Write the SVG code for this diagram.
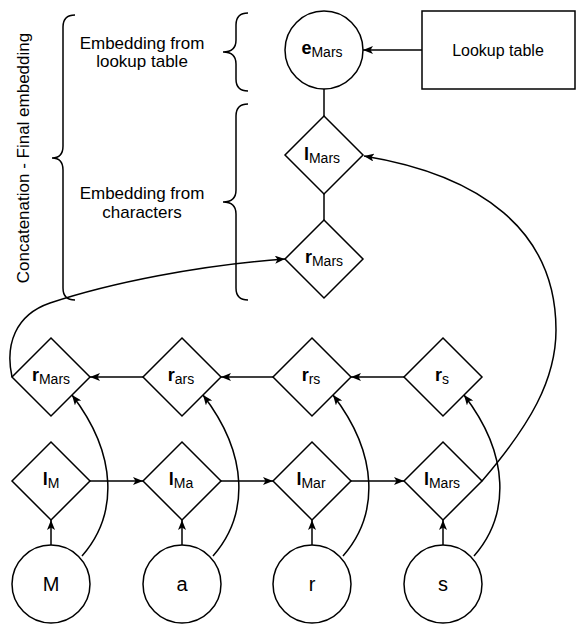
<svg xmlns="http://www.w3.org/2000/svg" width="576" height="624" viewBox="0 0 576 624">
<defs>
<style>
.s{fill:#fff;stroke:#000;stroke-width:1.5}
.c{fill:none;stroke:#000;stroke-width:1.5}
.b{fill:none;stroke:#000;stroke-width:1.5}
text{font-family:"Liberation Sans",Arial,Helvetica,sans-serif;fill:#000}
.lbl{font-size:16px;text-anchor:middle}
.m{font-weight:bold;font-size:18px}
.sub{font-size:14px}
.big{font-size:20px;text-anchor:middle}
.t{font-size:16px;text-anchor:middle}
.e{font-size:17px}
</style>
<marker id="a" viewBox="0 0 10 8" refX="10" refY="4" markerWidth="10" markerHeight="8" markerUnits="userSpaceOnUse" orient="auto">
<path d="M0,0 L10,4 L0,8 L2.5,4 Z" fill="#000"/>
</marker>
</defs>

<g id="braces">
<path class="b" d="M75,15 Q63,15 63,27 L63,146 Q63,158 52,158 Q63,158 63,170 L63,288 Q63,300 75,300"/>
<path class="b" d="M248,13 Q236,13 236,25 L236,40 Q236,52 223,52 Q236,52 236,64 L236,79 Q236,91 248,91"/>
<path class="b" d="M248,104 Q236,104 236,116 L236,190 Q236,202 223,202 Q236,202 236,214 L236,288 Q236,300 248,300"/>
</g>

<g id="labels">
<text class="t e" transform="translate(29,158) rotate(-90)">Concatenation - Final embedding</text>
<text class="t e" x="142" y="48.5">Embedding from</text>
<text class="t e" x="142" y="67">lookup table</text>
<text class="t e" x="142" y="199">Embedding from</text>
<text class="t e" x="142" y="217.5">characters</text>
</g>

<g id="connectors">
<path class="c" d="M422,50 L363,50" marker-end="url(#a)"/>
<path class="c" d="M324,89 L324,116"/>
<path class="c" d="M324,194 L324,220"/>
<path class="c" d="M404,377 L351,377" marker-end="url(#a)"/>
<path class="c" d="M273,377 L221,377" marker-end="url(#a)"/>
<path class="c" d="M143,377 L90,377" marker-end="url(#a)"/>
<path class="c" d="M90,481 L143,481" marker-end="url(#a)"/>
<path class="c" d="M221,481 L273,481" marker-end="url(#a)"/>
<path class="c" d="M351,481 L404,481" marker-end="url(#a)"/>
<path class="c" d="M51,545 L51,520" marker-end="url(#a)"/>
<path class="c" d="M182,545 L182,520" marker-end="url(#a)"/>
<path class="c" d="M312,545 L312,520" marker-end="url(#a)"/>
<path class="c" d="M443,545 L443,520" marker-end="url(#a)"/>
<path class="c" d="M82,556 C118,515 118,455 72,395" marker-end="url(#a)"/>
<path class="c" d="M213,556 C249,515 249,455 203,395" marker-end="url(#a)"/>
<path class="c" d="M343,556 C379,515 379,455 333,395" marker-end="url(#a)"/>
<path class="c" d="M474,556 C510,515 510,455 464,395" marker-end="url(#a)"/>
<path class="c" d="M482,481 C530,425 556,380 556,330 C556,230 480,175 364,156" marker-end="url(#a)"/>
<path class="c" d="M12,377 C5,345 15,315 50,303 C110,283 200,265 285,259" marker-end="url(#a)"/>
</g>

<g id="lookup">
<rect class="s" x="422" y="11" width="153" height="78"/>
<text class="t" x="498" y="55.5">Lookup table</text>
</g>

<g id="e_Mars">
<circle class="s" cx="324" cy="50" r="39"/>
<text class="lbl" x="322" y="54"><tspan class="m">e</tspan><tspan class="sub" dy="3">Mars</tspan></text>
</g>
<g id="l_Mars_top">
<polygon class="s" points="324,116 363,155 324,194 285,155"/>
<text class="lbl" x="322" y="160"><tspan class="m">l</tspan><tspan class="sub" dy="3">Mars</tspan></text>
</g>
<g id="r_Mars_top">
<polygon class="s" points="324,220 363,259 324,298 285,259"/>
<text class="lbl" x="324" y="263"><tspan class="m">r</tspan><tspan class="sub" dy="3">Mars</tspan></text>
</g>

<g id="r_Mars">
<polygon class="s" points="51,338 90,377 51,416 12,377"/>
<text class="lbl" x="51" y="381"><tspan class="m">r</tspan><tspan class="sub" dy="3">Mars</tspan></text>
</g>
<g id="r_ars">
<polygon class="s" points="182,338 221,377 182,416 143,377"/>
<text class="lbl" x="181" y="381"><tspan class="m">r</tspan><tspan class="sub" dy="3">ars</tspan></text>
</g>
<g id="r_rs">
<polygon class="s" points="312,338 351,377 312,416 273,377"/>
<text class="lbl" x="311" y="381"><tspan class="m">r</tspan><tspan class="sub" dy="3">rs</tspan></text>
</g>
<g id="r_s">
<polygon class="s" points="443,338 482,377 443,416 404,377"/>
<text class="lbl" x="442" y="381"><tspan class="m">r</tspan><tspan class="sub" dy="3">s</tspan></text>
</g>

<g id="l_M">
<polygon class="s" points="51,442 90,481 51,520 12,481"/>
<text class="lbl" x="51" y="485"><tspan class="m">l</tspan><tspan class="sub" dy="3">M</tspan></text>
</g>
<g id="l_Ma">
<polygon class="s" points="182,442 221,481 182,520 143,481"/>
<text class="lbl" x="181" y="485"><tspan class="m">l</tspan><tspan class="sub" dy="3">Ma</tspan></text>
</g>
<g id="l_Mar">
<polygon class="s" points="312,442 351,481 312,520 273,481"/>
<text class="lbl" x="311" y="485"><tspan class="m">l</tspan><tspan class="sub" dy="3">Mar</tspan></text>
</g>
<g id="l_Mars">
<polygon class="s" points="443,442 482,481 443,520 404,481"/>
<text class="lbl" x="442" y="485"><tspan class="m">l</tspan><tspan class="sub" dy="3">Mars</tspan></text>
</g>

<g id="M">
<circle class="s" cx="51" cy="584" r="39"/>
<text class="big" x="51" y="591">M</text>
</g>
<g id="a_node">
<circle class="s" cx="182" cy="584" r="39"/>
<text class="big" x="182" y="591">a</text>
</g>
<g id="r_node">
<circle class="s" cx="312" cy="584" r="39"/>
<text class="big" x="312" y="591">r</text>
</g>
<g id="s_node">
<circle class="s" cx="443" cy="584" r="39"/>
<text class="big" x="443" y="591">s</text>
</g>
</svg>
